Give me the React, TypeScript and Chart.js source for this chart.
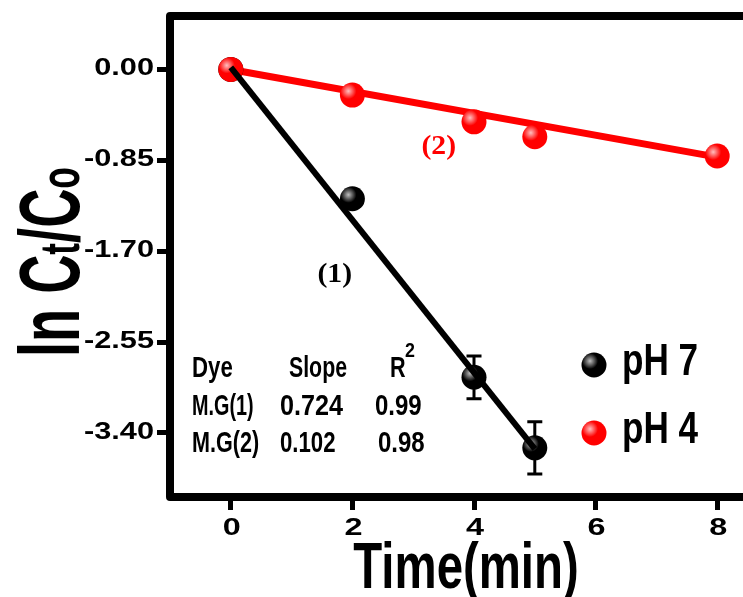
import React, { useEffect, useRef } from "react";
import { Chart, registerables } from "chart.js";

Chart.register(...registerables);

// ---- data ----
const timePH7 = [0, 2, 4, 5];
const lnPH7 = [0, -1.21, -2.88, -3.54];
const errPH7 = [0, 0, 0.2, 0.245];

const timePH4 = [0, 2, 4, 5, 8];
const lnPH4 = [0, -0.24, -0.49, -0.63, -0.81];

const fit1X = [0, 5];
const fit1Y = [0.02, -3.55];
const fit2X = [0, 8];
const fit2Y = [0, -0.82];

const xTicks = [0, 2, 4, 6, 8];
const yTicks = [0, -0.85, -1.7, -2.55, -3.4];

const tableHeader = ["Dye", "Slope", "R"];
const dyeNames = ["M.G(1)", "M.G(2)"];
const slopes = ["0.724", "0.102"];
const rSquared = ["0.99", "0.98"];

const fitLabels = ["(1)", "(2)"];

const BLACK = "#000000";
const RED = "#ff0000";

function drawScaled(
  ctx: CanvasRenderingContext2D,
  text: string,
  x: number,
  y: number,
  font: string,
  sx: number,
  align: "left" | "center" | "right",
  color: string
) {
  ctx.save();
  ctx.font = font;
  ctx.fillStyle = color;
  ctx.textBaseline = "alphabetic";
  ctx.textAlign = "left";
  const w = ctx.measureText(text).width * sx;
  const x0 = align === "center" ? x - w / 2 : align === "right" ? x - w : x;
  ctx.translate(x0, y);
  ctx.scale(sx, 1);
  ctx.fillText(text, 0, 0);
  ctx.restore();
}

function shine(ctx: CanvasRenderingContext2D, x: number, y: number, r: number) {
  const g = ctx.createRadialGradient(x - 4, y - 4, 0, x - 4, y - 4, 8);
  g.addColorStop(0, "rgba(255,255,255,0.75)");
  g.addColorStop(1, "rgba(255,255,255,0)");
  ctx.save();
  ctx.beginPath();
  ctx.arc(x, y, r, 0, Math.PI * 2);
  ctx.clip();
  ctx.fillStyle = g;
  ctx.fillRect(x - r, y - r, 2 * r, 2 * r);
  ctx.restore();
}

const SANS = '"Liberation Sans", Arial, sans-serif';
const SERIF = '"Liberation Serif", "Times New Roman", serif';

const decorPlugin = {
  id: "decor",
  beforeDatasetsDraw(chart: any) {
    const ctx: CanvasRenderingContext2D = chart.ctx;
    const xs = chart.scales.x;
    const ys = chart.scales.y;
    // error bars
    ctx.save();
    ctx.strokeStyle = BLACK;
    ctx.lineWidth = 3;
    timePH7.forEach((t, i) => {
      const e = errPH7[i];
      if (!e) return;
      const px = xs.getPixelForValue(t);
      const pTop = ys.getPixelForValue(lnPH7[i] + e);
      const pBot = ys.getPixelForValue(lnPH7[i] - e);
      ctx.beginPath();
      ctx.moveTo(px, pTop);
      ctx.lineTo(px, pBot);
      ctx.moveTo(px - 7.5, pTop);
      ctx.lineTo(px + 7.5, pTop);
      ctx.moveTo(px - 7.5, pBot);
      ctx.lineTo(px + 7.5, pBot);
      ctx.stroke();
    });
    ctx.restore();
  },
  afterDatasetDraw(chart: any, args: any) {
    const ds = chart.data.datasets[args.index];
    if (ds.showLine) return;
    const ctx: CanvasRenderingContext2D = chart.ctx;
    args.meta.data.forEach((pt: any) => shine(ctx, pt.x, pt.y, 12.5));
  },
  afterDatasetsDraw(chart: any) {
    const ctx: CanvasRenderingContext2D = chart.ctx;
    const xs = chart.scales.x;
    const ys = chart.scales.y;
    const area = chart.chartArea;

    // frame
    ctx.save();
    ctx.strokeStyle = BLACK;
    ctx.lineWidth = 8;
    ctx.lineJoin = "round";
    ctx.strokeRect(area.left, area.top, area.right - area.left, area.bottom - area.top);
    ctx.restore();

    // tick labels
    const tickFont = `bold 24px ${SANS}`;
    yTicks.forEach((v) => {
      const py = ys.getPixelForValue(v);
      drawScaled(ctx, v.toFixed(2), 154, py + 6, tickFont, 1.28, "right", BLACK);
    });
    xTicks.forEach((v) => {
      const px = xs.getPixelForValue(v);
      drawScaled(ctx, String(v), px + 1, 535, tickFont, 1.35, "center", BLACK);
    });

    // x axis title
    drawScaled(ctx, "Time(min)", 466, 588, `bold 64px ${SANS}`, 0.74, "center", BLACK);

    // y axis title (rotated)
    ctx.save();
    ctx.translate(79, 357);
    ctx.rotate(-Math.PI / 2);
    ctx.scale(0.63, 1);
    ctx.fillStyle = BLACK;
    ctx.textBaseline = "alphabetic";
    ctx.textAlign = "left";
    const big = `bold 86px ${SANS}`;
    const small = `bold 56px ${SANS}`;
    let cx = 0;
    const parts: [string, string][] = [
      ["ln C", big],
      ["t", small],
      ["/C", big],
      ["o", small],
    ];
    parts.forEach(([t, f]) => {
      ctx.font = f;
      ctx.fillText(t, cx, 0);
      cx += ctx.measureText(t).width;
    });
    ctx.restore();

    // fit labels
    const fitPos = [
      { x: 1.71, y: -1.9, c: BLACK },
      { x: 3.42, y: -0.71, c: RED },
    ];
    fitLabels.forEach((lab, i) => {
      const px = xs.getPixelForValue(fitPos[i].x);
      const py = ys.getPixelForValue(fitPos[i].y);
      drawScaled(ctx, lab, px, py + 9, `bold 27px ${SERIF}`, 1.1, "center", fitPos[i].c);
    });

    // table
    const tf = `bold 30px ${SANS}`;
    drawScaled(ctx, tableHeader[0], 192, 377, tf, 0.74, "left", BLACK);
    drawScaled(ctx, tableHeader[1], 289, 377, tf, 0.71, "left", BLACK);
    drawScaled(ctx, tableHeader[2], 390, 377, tf, 0.72, "left", BLACK);
    drawScaled(ctx, "2", 405, 357, `bold 21px ${SANS}`, 0.85, "left", BLACK);
    const rowY = [415, 452];
    dyeNames.forEach((d, i) => {
      drawScaled(ctx, d, 192, rowY[i], tf, i === 0 ? 0.66 : 0.72, "left", BLACK);
      drawScaled(ctx, slopes[i], 280, rowY[i], tf, i === 0 ? 0.84 : 0.74, "left", BLACK);
      drawScaled(ctx, rSquared[i], i === 0 ? 375 : 378, rowY[i], tf, 0.8, "left", BLACK);
    });

    // legend
    const legendItems = [
      { label: chart.data.datasets[2].label, color: BLACK, cy: 365, base: 375 },
      { label: chart.data.datasets[1].label, color: RED, cy: 433, base: 443 },
    ];
    legendItems.forEach((it) => {
      ctx.save();
      ctx.fillStyle = it.color;
      ctx.beginPath();
      ctx.arc(594, it.cy, 12.5, 0, Math.PI * 2);
      ctx.fill();
      ctx.restore();
      shine(ctx, 594, it.cy, 12.5);
      drawScaled(ctx, it.label, 622, it.base, `bold 45px ${SANS}`, 0.78, "left", BLACK);
    });
  },
};

export default function App() {
  const ref = useRef<HTMLCanvasElement | null>(null);

  useEffect(() => {
    if (!ref.current) return;
    const chart = new Chart(ref.current, {
      type: "scatter",
      data: {
        datasets: [
          {
            label: "fit (1)",
            data: fit1X.map((t, i) => ({ x: t, y: fit1Y[i] })),
            borderColor: BLACK,
            borderWidth: 6,
            pointRadius: 0,
            showLine: true,
            order: 0,
          },
          {
            label: "pH 4",
            data: timePH4.map((t, i) => ({ x: t, y: lnPH4[i] })),
            backgroundColor: RED,
            borderColor: RED,
            pointRadius: 12.5,
            pointBorderWidth: 0,
            showLine: false,
            order: 1,
          },
          {
            label: "pH 7",
            data: timePH7.map((t, i) => ({ x: t, y: lnPH7[i] })),
            backgroundColor: BLACK,
            borderColor: BLACK,
            pointRadius: 12.5,
            pointBorderWidth: 0,
            showLine: false,
            order: 2,
          },
          {
            label: "fit (2)",
            data: fit2X.map((t, i) => ({ x: t, y: fit2Y[i] })),
            borderColor: RED,
            borderWidth: 7,
            pointRadius: 0,
            showLine: true,
            order: 3,
          },
        ],
      },
      options: {
        responsive: false,
        animation: false,
        events: [],
        layout: { padding: { left: 0, top: 16, right: 22, bottom: 0 } },
        plugins: {
          legend: { display: false },
          tooltip: { enabled: false },
        },
        scales: {
          x: {
            type: "linear",
            min: -1,
            max: 9,
            afterBuildTicks: (s: any) => {
              s.ticks = xTicks.map((v) => ({ value: v }));
            },
            afterFit: (s: any) => {
              s.height = 100;
            },
            grid: {
              display: true,
              drawOnChartArea: false,
              drawTicks: true,
              tickLength: 13,
              lineWidth: 5,
              color: BLACK,
            },
            border: { display: false },
            ticks: { display: false },
          },
          y: {
            type: "linear",
            min: -4,
            max: 0.5,
            afterBuildTicks: (s: any) => {
              s.ticks = yTicks.map((v) => ({ value: v }));
            },
            afterFit: (s: any) => {
              s.width = 170;
            },
            grid: {
              display: true,
              drawOnChartArea: false,
              drawTicks: true,
              tickLength: 13,
              lineWidth: 5,
              color: BLACK,
            },
            border: { display: false },
            ticks: { display: false },
          },
        },
      },
      plugins: [decorPlugin],
    });
    return () => chart.destroy();
  }, []);

  return (
    <div
      style={{
        position: "fixed",
        left: 0,
        top: 0,
        width: 743,
        height: 597,
        overflow: "hidden",
        background: "#fff",
      }}
    >
      <canvas ref={ref} width={800} height={597} style={{ display: "block" }} />
    </div>
  );
}
